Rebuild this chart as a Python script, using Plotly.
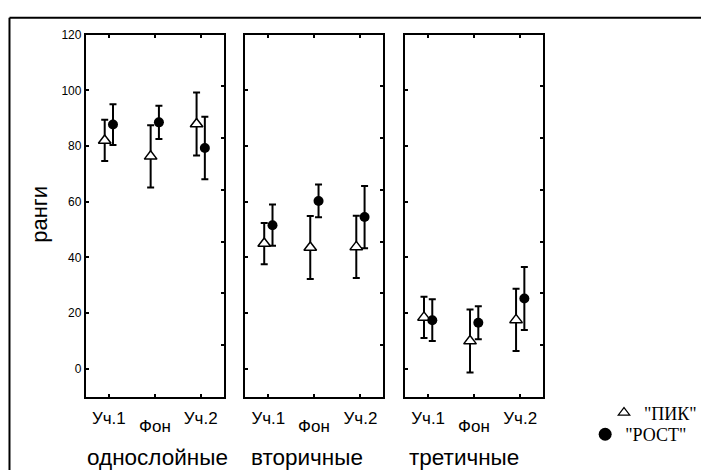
import plotly.graph_objects as go

W, H = 702, 470

categories = ["Уч.1", "Фон", "Уч.2"]
groups = ["однослойные", "вторичные", "третичные"]
series_names = ['"ПИК"', '"РОСТ"']

pik_mean_1 = [82.0, 76.3, 87.9]
pik_err_1 = [7.4, 11.2, 11.3]
rost_mean_1 = [87.7, 88.5, 79.3]
rost_err_1 = [7.3, 6.0, 11.2]

pik_mean_2 = [45.0, 43.6, 43.8]
pik_err_2 = [7.4, 11.3, 11.2]
rost_mean_2 = [51.6, 60.3, 54.5]
rost_err_2 = [7.4, 5.9, 11.2]

pik_mean_3 = [18.5, 10.0, 17.6]
pik_err_3 = [7.4, 11.3, 11.2]
rost_mean_3 = [17.5, 16.6, 25.3]
rost_err_3 = [7.5, 5.9, 11.3]

y_ticks = [0, 20, 40, 60, 80, 100, 120]

pik_means = [pik_mean_1, pik_mean_2, pik_mean_3]
pik_errs = [pik_err_1, pik_err_2, pik_err_3]
rost_means = [rost_mean_1, rost_mean_2, rost_mean_3]
rost_errs = [rost_err_1, rost_err_2, rost_err_3]

FONT = "Liberation Sans, Arial, sans-serif"
SERIF = "Liberation Serif, Times New Roman, serif"

def px(x):
    return x / W

def py(y):
    return 1 - y / H

panel_x = [(86, 224), (245.7, 384), (405.7, 544)]
y_dom = [py(395.7), py(28)]
dodge = 0.09
xpos = [i + 1 for i in range(len(categories))]

fig = go.Figure()
layout = dict(
    width=W, height=H,
    margin=dict(l=0, r=0, t=0, b=0),
    paper_bgcolor="white", plot_bgcolor="white",
    showlegend=True,
    font=dict(family=FONT, color="black"),
)

annotations = []
for p in range(3):
    xs = "" if p == 0 else str(p + 1)
    ys = "" if p == 0 else str(p + 1)
    yr = str(p + 4)
    xa = "x" + xs
    ya = "y" + ys
    fig.add_trace(go.Scatter(
        x=[v - dodge for v in xpos], y=pik_means[p], xaxis=xa, yaxis=ya,
        mode="markers", showlegend=False,
        marker=dict(symbol="triangle-up", size=11, color="white",
                    line=dict(color="black", width=1.5)),
        error_y=dict(type="data", array=pik_errs[p], color="black",
                     thickness=2, width=3.5),
    ))
    fig.add_trace(go.Scatter(
        x=[v + dodge for v in xpos], y=rost_means[p], xaxis=xa, yaxis=ya,
        mode="markers", showlegend=False,
        marker=dict(symbol="circle", size=10, color="black",
                    line=dict(color="black", width=0)),
        error_y=dict(type="data", array=rost_errs[p], color="black",
                     thickness=2, width=3.5),
    ))
    # dummy trace for right-hand axis
    fig.add_trace(go.Scatter(x=[None], y=[None], xaxis=xa, yaxis="y" + yr,
                             showlegend=False, hoverinfo="skip"))
    x0, x1 = panel_x[p]
    layout["xaxis" + xs] = dict(
        domain=[px(x0), px(x1)], anchor="y" + ys, range=[0.5, 3.5],
        tickvals=xpos, ticktext=[categories[0], "", categories[2]],
        ticks="inside", ticklen=3, tickwidth=1.5, tickcolor="black",
        showline=True, linewidth=2, linecolor="black", mirror="ticks",
        showgrid=False, zeroline=False,
        tickfont=dict(family=FONT, size=17, color="black"),
        ticklabelstandoff=5,
    )
    layout["yaxis" + ys] = dict(
        domain=y_dom, anchor="x" + xs, range=[-10, 120],
        tickvals=y_ticks, showticklabels=(p == 0),
        ticks="inside", ticklen=3, tickwidth=1.5, tickcolor="black",
        showline=True, linewidth=2, linecolor="black", mirror=True,
        showgrid=False, zeroline=False,
        tickfont=dict(family=FONT, size=12, color="black"),
    )
    layout["yaxis" + yr] = dict(
        overlaying="y" + ys, anchor="x" + xs, side="right", range=[0, 7],
        dtick=1, showticklabels=False, ticks="inside", ticklen=3,
        tickwidth=1.5, tickcolor="black", showline=False, showgrid=False,
        zeroline=False,
    )
    annotations.append(dict(
        x=categories.index("Фон") + 1, xref=xa, y=py(426), yref="paper",
        text=categories[1], showarrow=False, xanchor="center", yanchor="middle",
        font=dict(family=FONT, size=17, color="black"),
    ))

group_cx = [157.5, 307, 465]
for g, cx in zip(groups, group_cx):
    annotations.append(dict(
        x=px(cx), y=py(457), xref="paper", yref="paper", text=g,
        showarrow=False, xanchor="center", yanchor="middle",
        font=dict(family=FONT, size=22.5, color="black"),
    ))

annotations.append(dict(
    x=px(40), y=py(210), xref="paper", yref="paper", text="ранги",
    textangle=-90, showarrow=False, xanchor="center", yanchor="middle",
    font=dict(family=FONT, size=22, color="black"),
))

# legend entries
fig.add_trace(go.Scatter(
    x=[None], y=[None], mode="markers", name=series_names[0], legend="legend",
    marker=dict(symbol="triangle-up", size=10, color="white",
                line=dict(color="black", width=1.2)),
))
fig.add_trace(go.Scatter(
    x=[None], y=[None], mode="markers", name=series_names[1], legend="legend2",
    marker=dict(symbol="circle", size=13, color="black"),
))
layout["legend"] = dict(x=px(605), y=py(412), xanchor="left", yanchor="middle",
                        bgcolor="rgba(0,0,0,0)",
                        font=dict(family=SERIF, size=18, color="black"))
layout["legend2"] = dict(x=px(586), y=py(434), xanchor="left", yanchor="middle",
                         bgcolor="rgba(0,0,0,0)",
                         font=dict(family=SERIF, size=18, color="black"))

layout["annotations"] = annotations
layout["shapes"] = [
    dict(type="line", xref="paper", yref="paper", x0=px(9.5), x1=1.0,
         y0=py(11), y1=py(11), line=dict(color="black", width=2)),
    dict(type="line", xref="paper", yref="paper", x0=px(9.5), x1=px(9.5),
         y0=py(11), y1=0.0, line=dict(color="black", width=2)),
]
fig.update_layout(**layout)
fig.write_html(
    "out.html",
    config={"displayModeBar": False},
    post_script="document.body.style.margin='0';document.body.style.padding='0';"
                "document.body.style.overflow='hidden';",
)
